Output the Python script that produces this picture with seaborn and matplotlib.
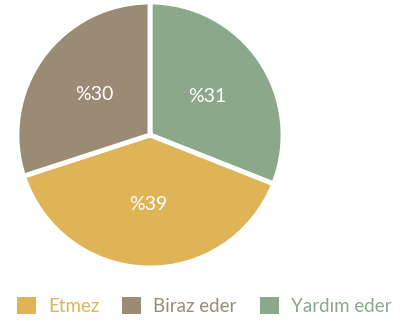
import matplotlib
matplotlib.use("Agg")
import matplotlib.pyplot as plt
from matplotlib.patches import Patch
import seaborn as sns

# Survey answers, in the order drawn clockwise from 12 o'clock
labels = ["Yardım eder", "Etmez", "Biraz eder"]
values = [31, 39, 30]
colors = ["#8BA98A", "#DFB457", "#9A8C74"]

# Legend order
legend_labels = ["Etmez", "Biraz eder", "Yardım eder"]

sns.set_theme(style="white")
plt.rcParams["font.family"] = ["Lato", "DejaVu Sans"]

fig = plt.figure(figsize=(4.13, 3.23), dpi=100)
W, H = 413, 323
ax = fig.add_axes([17 / W, (H - 268) / H, 266 / W, 266 / H])

wedges, texts = ax.pie(
    values,
    colors=colors,
    startangle=90,
    counterclock=False,
    labels=[f"%{v}" for v in values],
    labeldistance=0.52,
    wedgeprops=dict(edgecolor="white", linewidth=3.5),
    textprops=dict(color="white", fontsize=14),
)
for t in texts:
    t.set_horizontalalignment("center")
    t.set_verticalalignment("center")
ax.set_xlim(-1.0, 1.0)
ax.set_ylim(-1.0, 1.0)
ax.set_aspect("equal")
ax.axis("off")

color_of = dict(zip(labels, colors))
handles = [Patch(facecolor=color_of[l], edgecolor="none") for l in legend_labels]
fs = 13.5
px = fs * 100 / 72
leg = fig.legend(
    handles,
    legend_labels,
    loc="center left",
    bbox_to_anchor=((17 - 0.4 * px) / W, 1 - 306 / H),
    borderaxespad=0,
    ncol=3,
    frameon=False,
    handlelength=19 / px,
    handleheight=19 / px,
    handletextpad=12 / px,
    columnspacing=23 / px,
    prop=dict(size=fs),
)
for txt, l in zip(leg.get_texts(), legend_labels):
    txt.set_color(color_of[l])

fig.savefig("out.png", dpi=100, facecolor="white")
